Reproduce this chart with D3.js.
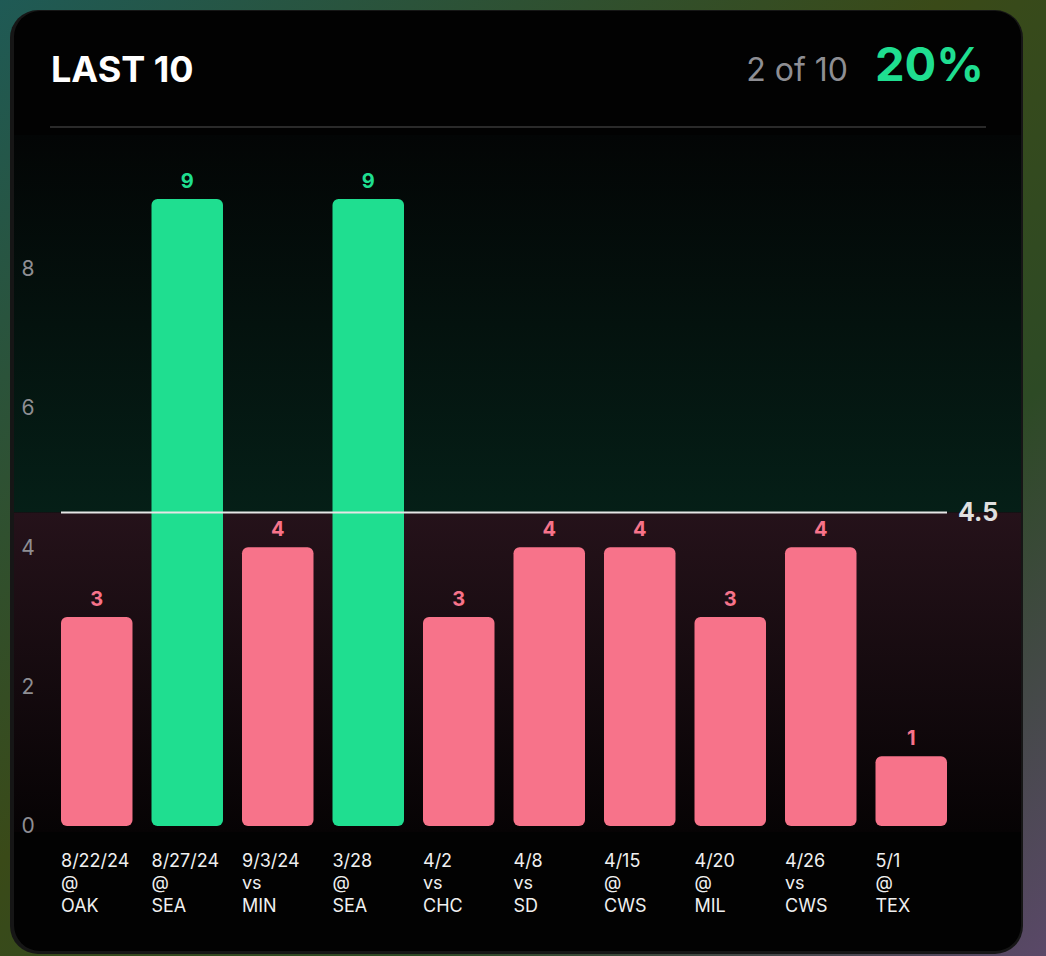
<!DOCTYPE html>
<html>
<head>
<meta charset="utf-8">
<script src="https://cdn.jsdelivr.net/npm/d3@7"></script>
<style>
  body { margin: 0; background: #000; }
  svg { display: block; font-family: Inter, "Noto Sans", sans-serif; }
</style>
</head>
<body>
<div id="chart"></div>
<script>
// games, values and the prop line
var dates = ["8/22/24", "8/27/24", "9/3/24", "3/28", "4/2", "4/8", "4/15", "4/20", "4/26", "5/1"];
var sites = ["@", "@", "vs", "@", "vs", "vs", "@", "@", "vs", "@"];
var opponents = ["OAK", "SEA", "MIN", "SEA", "CHC", "SD", "CWS", "MIL", "CWS", "TEX"];
var values = [3, 9, 4, 9, 3, 4, 4, 3, 4, 1];
var line = 4.5;
var yTicks = [0, 2, 4, 6, 8];

var W = 1046, H = 956;
var pink = "#f7738a", green = "#1fde90";

var svg = d3.select("#chart").append("svg")
    .attr("width", W).attr("height", H);

var defs = svg.append("defs");

// backdrop behind the card
var bg = defs.append("linearGradient").attr("id", "bg")
    .attr("x1", 0).attr("y1", 0).attr("x2", 1).attr("y2", 1);
bg.append("stop").attr("offset", "0%").attr("stop-color", "#1f5a55");
bg.append("stop").attr("offset", "45%").attr("stop-color", "#3a4a18");
bg.append("stop").attr("offset", "70%").attr("stop-color", "#2d4a25");
bg.append("stop").attr("offset", "100%").attr("stop-color", "#5a4868");

var above = defs.append("linearGradient").attr("id", "above")
    .attr("x1", 0).attr("y1", 0).attr("x2", 0).attr("y2", 1);
above.append("stop").attr("offset", "0%").attr("stop-color", "#030505");
above.append("stop").attr("offset", "100%").attr("stop-color", "#051f17");

var below = defs.append("linearGradient").attr("id", "below")
    .attr("x1", 0).attr("y1", 0).attr("x2", 0).attr("y2", 1);
below.append("stop").attr("offset", "0%").attr("stop-color", "#25121a");
below.append("stop").attr("offset", "100%").attr("stop-color", "#060304");

defs.append("clipPath").attr("id", "card")
  .append("rect")
    .attr("x", 14).attr("y", 11).attr("width", 1007).attr("height", 940).attr("rx", 26);

svg.append("rect").attr("width", W).attr("height", H).attr("fill", "url(#bg)");
svg.append("rect")
    .attr("x", 10).attr("y", 10).attr("width", 1013).attr("height", 944).attr("rx", 28)
    .attr("fill", "#161616");
svg.append("rect")
    .attr("x", 14).attr("y", 11).attr("width", 1007).attr("height", 940).attr("rx", 26)
    .attr("fill", "#020202");

// header
svg.append("text")
    .attr("x", 51).attr("y", 82)
    .attr("fill", "#fff").attr("font-size", 36).attr("font-weight", 700)
    .text("LAST 10");

var hits = values.filter(function(v) { return v > line; }).length;
svg.append("text")
    .attr("x", 984).attr("y", 81).attr("text-anchor", "end")
    .attr("fill", green).attr("font-size", 47).attr("font-weight", 700)
    .text(Math.round(hits / values.length * 100) + "%");
svg.append("text")
    .attr("x", 848).attr("y", 81).attr("text-anchor", "end")
    .attr("fill", "#8e8e93").attr("font-size", 32)
    .text(hits + " of " + values.length);

svg.append("line")
    .attr("x1", 50).attr("x2", 986).attr("y1", 127).attr("y2", 127)
    .attr("stroke", "#2a2a2a").attr("stroke-width", 2);

// scales
var x = d3.scaleBand()
    .domain(d3.range(values.length))
    .range([61, 947])
    .paddingInner(0.21)
    .paddingOuter(0);

var y = d3.scaleLinear()
    .domain([0, 9])
    .range([826, 199]);

// zone shading above / below the line
var g = svg.append("g").attr("clip-path", "url(#card)");
g.append("rect")
    .attr("x", 14).attr("width", 1007)
    .attr("y", 135).attr("height", y(line) - 135)
    .attr("fill", "url(#above)");
g.append("rect")
    .attr("x", 14).attr("width", 1007)
    .attr("y", y(line)).attr("height", y(0) + 6 - y(line))
    .attr("fill", "url(#below)");

// y axis
var yAxis = svg.append("g")
    .attr("transform", "translate(36,0)")
    .call(d3.axisLeft(y).tickValues(yTicks).tickSize(0).tickPadding(0));
yAxis.select(".domain").remove();
yAxis.selectAll("text")
    .attr("fill", "#8e8e93").attr("font-size", 21)
    .attr("font-family", "Inter, 'Noto Sans', sans-serif")
    .attr("text-anchor", "middle").attr("x", -8);

// bars
svg.selectAll("rect.bar")
  .data(values)
  .enter()
  .append("rect")
    .attr("class", "bar")
    .attr("x", function(d, i) { return x(i); })
    .attr("y", function(d) { return y(d); })
    .attr("width", x.bandwidth())
    .attr("height", function(d) { return y(0) - y(d); })
    .attr("rx", 6)
    .attr("fill", function(d) { return d > line ? green : pink; });

svg.selectAll("text.val")
  .data(values)
  .enter()
  .append("text")
    .attr("class", "val")
    .attr("x", function(d, i) { return x(i) + x.bandwidth() / 2; })
    .attr("y", function(d) { return y(d) - 11; })
    .attr("text-anchor", "middle")
    .attr("font-size", 20).attr("font-weight", 700)
    .attr("fill", function(d) { return d > line ? green : pink; })
    .text(function(d) { return d; });

// prop line
svg.append("line")
    .attr("x1", 61).attr("x2", 947)
    .attr("y1", y(line)).attr("y2", y(line))
    .attr("stroke", "#e6e6e6").attr("stroke-width", 2);
svg.append("text")
    .attr("x", 958).attr("y", y(line)).attr("dy", "0.35em")
    .attr("fill", "#e0e0e0").attr("font-size", 25).attr("font-weight", 700)
    .text(line);

// x labels
var xl = svg.selectAll("text.xl")
  .data(dates)
  .enter()
  .append("text")
    .attr("class", "xl")
    .attr("x", function(d, i) { return x(i); })
    .attr("y", 867)
    .attr("fill", "#f0f0f0").attr("font-size", 18);
xl.append("tspan").attr("x", function(d, i) { return x(i); }).text(function(d) { return d; });
xl.append("tspan").attr("x", function(d, i) { return x(i); }).attr("dy", 22)
    .text(function(d, i) { return sites[i]; });
xl.append("tspan").attr("x", function(d, i) { return x(i); }).attr("dy", 22.5)
    .text(function(d, i) { return opponents[i]; });
</script>
</body>
</html>
